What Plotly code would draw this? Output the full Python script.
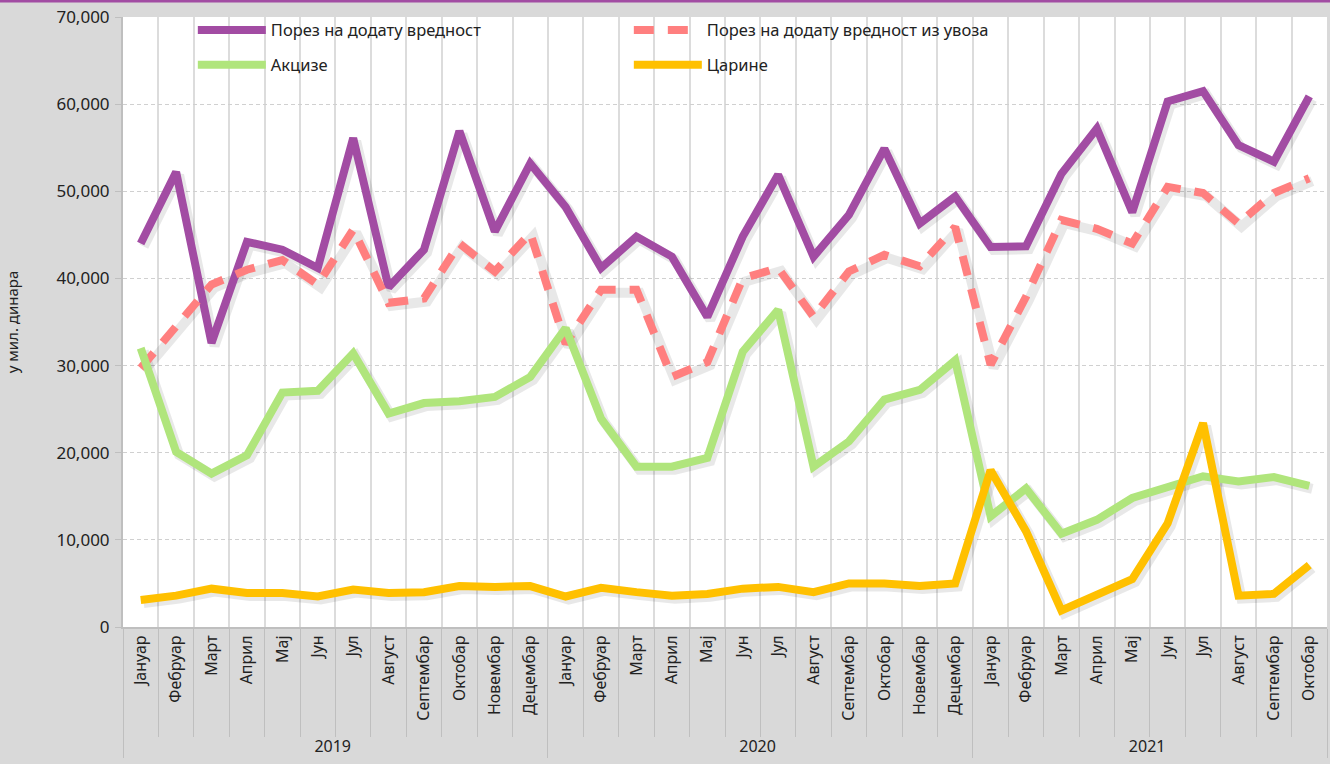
import plotly.graph_objects as go

months_all = ["Јануар", "Фебруар", "Март", "Април", "Мај", "Јун", "Јул",
              "Август", "Септембар", "Октобар", "Новембар", "Децембар"]
years = ["2019"] * 12 + ["2020"] * 12 + ["2021"] * 10
months = months_all * 2 + months_all[:10]

pdv = [44000, 52200, 32600, 44200, 43300, 41200, 56100, 39000, 43300, 56900, 45400, 53200,
       48200, 41200, 44800, 42500, 35600, 44800, 51900, 42500, 47300, 54900, 46300, 49400,
       43600, 43700, 52000, 57200, 47600, 60300, 61500, 55300, 53400, 60900]
pdv_uvoz = [29700, 34500, 39300, 41000, 42100, 39300, 45600, 37200, 37700, 44000, 40800, 45200,
            32500, 38700, 38700, 28700, 30400, 40000, 41200, 35600, 40800, 42700, 41400, 45900,
            30100, 37900, 46700, 45700, 44000, 50500, 49800, 46300, 49800, 51500]
akcize = [32000, 20100, 17600, 19700, 26900, 27100, 31400, 24500, 25700, 25900, 26400, 28700,
          34300, 23900, 18400, 18400, 19400, 31600, 36400, 18400, 21300, 26100, 27200, 30600,
          12700, 15900, 10700, 12300, 14800, 16100, 17300, 16700, 17200, 16200]
carine = [3100, 3600, 4400, 3900, 3900, 3500, 4300, 3900, 4000, 4700, 4600, 4700,
          3500, 4500, 4000, 3600, 3800, 4400, 4600, 4000, 5000, 5000, 4700, 5000,
          18000, 11000, 1900, 3600, 5500, 11900, 23400, 3600, 3800, 7100]

names = ["Порез на додату вредност", "Порез на додату вредност из увоза", "Акцизе", "Царине"]
series = [pdv, pdv_uvoz, akcize, carine]
colors = ["#A24CA3", "#FF7F7F", "#B0E57C", "#FFC000"]
dashes = ["solid", "20px,14px", "solid", "solid"]
legends = ["legend", "legend", "legend2", "legend2"]

fig = go.Figure()

n = len(months)
idx = list(range(n))
# soft shadows on the hidden base axes (drawn underneath)
for vals in series:
    fig.add_trace(go.Scatter(x=idx, y=vals, mode="lines", xaxis="x", yaxis="y",
                             line=dict(color="rgba(0,0,0,0.09)", width=10),
                             showlegend=False, hoverinfo="skip"))

for name, vals, col, dsh, lg in zip(names, series, colors, dashes, legends):
    fig.add_trace(go.Scatter(x=[years, months], y=vals, name=name, mode="lines",
                             xaxis="x2", yaxis="y2",
                             line=dict(color=col, width=8, dash=dsh), legend=lg))

font_family = "Noto Sans, Open Sans, sans-serif"
dpx = 3.0 / 35.4
dy = 3.0 / 610 * 70000

fig.update_layout(
    width=1330, height=764,
    margin=dict(l=123, r=3, t=17, b=137, autoexpand=False),
    paper_bgcolor="#D9D9D9",
    plot_bgcolor="#FFFFFF",
    font=dict(family=font_family, color="#222222", size=15),
    xaxis=dict(range=[-0.5 - dpx, n - 0.5 - dpx], visible=False, automargin=False),
    yaxis=dict(range=[dy, 70000 + dy], visible=False, automargin=False),
    xaxis2=dict(
        overlaying="x", side="bottom", automargin=False,
        type="multicategory",
        tickson="boundaries",
        ticks="outside", ticklen=108, tickcolor="#BFBFBF", tickwidth=1,
        showgrid=True, gridcolor="#DCDCDC", gridwidth=1.5,
        tickangle=-90,
        tickfont=dict(size=16, family=font_family, color="#222222"),
        showdividers=True, dividercolor="#BFBFBF", dividerwidth=1,
        showline=True, linecolor="#BFBFBF", linewidth=2,
        range=[-0.5, n - 0.5],
    ),
    yaxis2=dict(
        overlaying="y", side="left", automargin=False,
        range=[0, 70000], dtick=10000, tickformat=",d",
        showgrid=True, gridcolor="#D0D0D0", griddash="4px,3px", gridwidth=1,
        ticks="outside", ticklen=6, tickcolor="#BFBFBF", ticklabelstandoff=2,
        showline=True, linecolor="#BFBFBF", linewidth=2,
        tickfont=dict(size=17, color="#222222"),
        title=dict(text="у мил. динара", font=dict(size=15), standoff=34),
        zeroline=False,
    ),
    legend=dict(orientation="h", x=0.058, y=1.007, xanchor="left", yanchor="top",
                entrywidth=353, entrywidthmode="pixels", itemwidth=68,
                bgcolor="rgba(0,0,0,0)", font=dict(size=16.5, color="#222222"),
                traceorder="normal"),
    legend2=dict(orientation="h", x=0.058, y=0.95, xanchor="left", yanchor="top",
                 entrywidth=353, entrywidthmode="pixels", itemwidth=68,
                 bgcolor="rgba(0,0,0,0)", font=dict(size=16.5, color="#222222"),
                 traceorder="normal"),
    shapes=[dict(type="line", xref="paper", yref="paper", x0=-0.2, x1=1.1,
                 y0=1 + 16.0 / 610, y1=1 + 16.0 / 610,
                 line=dict(color="#A24CA3", width=3))],
    showlegend=True,
)

fig.write_html("out.html",
               config={"displayModeBar": False},
               post_script="document.body.style.margin='0px';"
                           "document.body.style.background='#D9D9D9';")
